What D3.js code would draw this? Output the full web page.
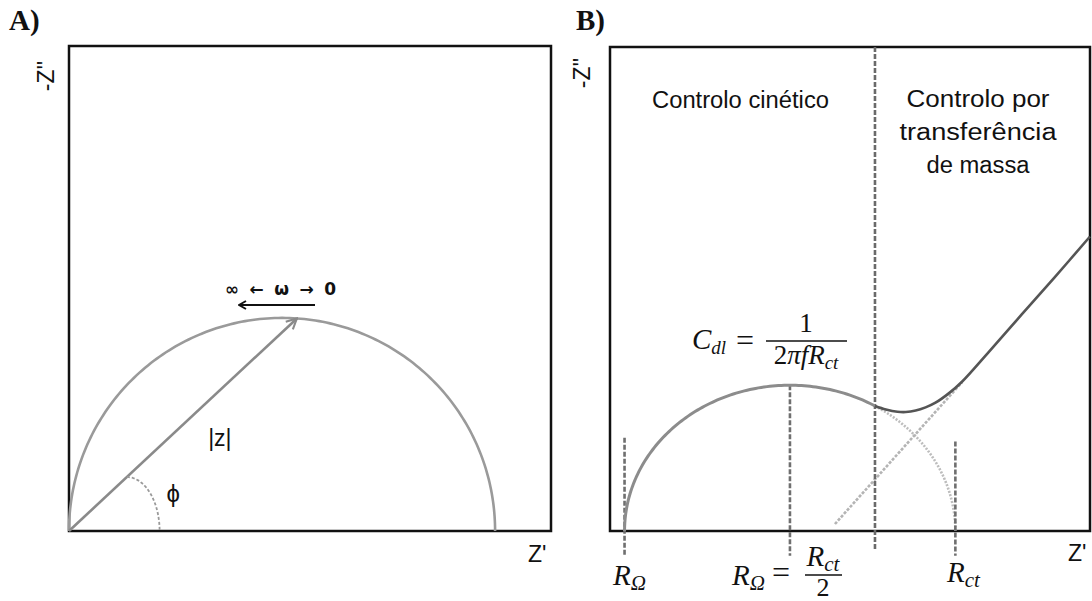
<!DOCTYPE html>
<html>
<head>
<meta charset="utf-8">
<script src="https://cdn.jsdelivr.net/npm/d3@7"></script>
<style>
  html, body { margin: 0; padding: 0; background: #fff; }
  svg { display: block; }
  .sans { font-family: "Liberation Sans", Arial, sans-serif; }
  .math { font-family: "Liberation Serif", "Times New Roman", serif; font-style: italic; }
</style>
</head>
<body>
<script>
// ---------- Panel A: Nyquist semicircle of a simple RC element ----------
const arcACenter = 4.42;          // Z' of the semicircle centre
const arcARadius = 4.42;          // semicircle radius
const modulusAngleDeg = 86;       // where |Z| vector meets the arc (angle seen from centre)
const phiArcX = [1.2, 1.88];      // phase-angle arc: start on |Z| vector, end on Z' axis

// ---------- Panel B: Randles circuit response ----------
const rOhm = 0.5;                 // high-frequency intercept R_Ω
const rCt = 10.0;                 // charge-transfer resistance
const regimeBoundary = 8.07;      // kinetic / mass-transfer boundary on Z'
const diffusionTail = [           // measured curve after leaving the semicircle [Z', -Z'']
  [8.07, 4.29], [8.4, 4.17], [8.75, 4.09], [9.0, 4.08], [9.3, 4.13],
  [9.6, 4.24], [9.9, 4.4], [10.3, 4.72], [10.7, 5.12], [11.5, 6.13],
  [12.5, 7.42], [13.5, 8.7], [14.57, 10.1]
];
const warburgLine = [[6.86, 0.24], [10.7, 5.1]];   // Warburg asymptote (dashed)
const markerTops = { rOhm: 3.2, half: 5.0, rCt: 3.07 }; // top ends of marker lines
const markerBottom = -0.85;

const W = 1092, H = 601;
const svg = d3.select("body").append("svg").attr("width", W).attr("height", H);

const defs = svg.append("defs");
defs.append("marker").attr("id", "headGray")
  .attr("viewBox", "0 0 10 10").attr("refX", 9).attr("refY", 5)
  .attr("markerWidth", 5).attr("markerHeight", 5).attr("markerUnits", "strokeWidth")
  .attr("orient", "auto")
  .append("path").attr("d", "M1,1 L9,5 L1,9").attr("fill", "none")
  .attr("stroke", "#8a8a8a").attr("stroke-width", 1.6);
defs.append("marker").attr("id", "headBlack")
  .attr("viewBox", "0 0 10 10").attr("refX", 9).attr("refY", 5)
  .attr("markerWidth", 5).attr("markerHeight", 5).attr("markerUnits", "strokeWidth")
  .attr("orient", "auto-start-reverse")
  .append("path").attr("d", "M2,1 L9,5 L2,9").attr("fill", "none")
  .attr("stroke", "#111").attr("stroke-width", 2);

const deg = Math.PI / 180;

// ===================== PANEL A =====================
const xA = d3.scaleLinear().domain([0, 10]).range([69, 551]);
const yA = d3.scaleLinear().domain([0, 10.06]).range([531, 46]);
const gA = svg.append("g");

gA.append("rect").attr("x", xA(0)).attr("y", yA(10.06))
  .attr("width", xA(10) - xA(0)).attr("height", yA(0) - yA(10.06))
  .attr("fill", "none").attr("stroke", "#111").attr("stroke-width", 2.5);

const lineA = d3.line().x(d => xA(d[0])).y(d => yA(d[1]));

// semicircle
const semiA = d3.range(0, 181, 1).map(a => [
  arcACenter + arcARadius * Math.cos((180 - a) * deg),
  arcARadius * Math.sin((180 - a) * deg)
]);
gA.append("path").attr("d", lineA(semiA)).attr("fill", "none")
  .attr("stroke", "#9a9a9a").attr("stroke-width", 2.6);

// |Z| vector
const tip = [arcACenter + arcARadius * Math.cos(modulusAngleDeg * deg),
             arcARadius * Math.sin(modulusAngleDeg * deg)];
gA.append("line").attr("x1", xA(0)).attr("y1", yA(0))
  .attr("x2", xA(tip[0])).attr("y2", yA(tip[1]))
  .attr("stroke", "#8a8a8a").attr("stroke-width", 2.6)
  .attr("marker-end", "url(#headGray)");

// phase angle arc (quarter ellipse from the vector down to the axis)
const slope = tip[1] / tip[0];
const phiRy = slope * phiArcX[0], phiRx = phiArcX[1] - phiArcX[0];
const phiPts = d3.range(0, 91, 3).map(t => [
  phiArcX[0] + phiRx * Math.sin(t * deg), phiRy * Math.cos(t * deg)
]);
gA.append("path").attr("d", lineA(phiPts)).attr("fill", "none")
  .attr("stroke", "#9a9a9a").attr("stroke-width", 1.8).attr("stroke-dasharray", "3,2");

// labels
gA.append("text").attr("class", "sans").attr("x", xA(3.13)).attr("y", yA(1.76))
  .attr("text-anchor", "middle").attr("font-size", 23).attr("fill", "#111").text("|z|");
gA.append("text").attr("class", "sans").attr("x", xA(2.16)).attr("y", yA(0.6))
  .attr("text-anchor", "middle").attr("font-size", 24).attr("fill", "#111").text("ϕ");
gA.append("text").attr("font-family", "DejaVu Sans, sans-serif").attr("font-weight", "bold")
  .attr("x", 225).attr("y", 295).attr("font-size", 17).attr("fill", "#111")
  .attr("textLength", 111).attr("lengthAdjust", "spacing").text("∞ ← ω → 0");
gA.append("line").attr("x1", 315).attr("y1", 305).attr("x2", 239).attr("y2", 305)
  .attr("stroke", "#111").attr("stroke-width", 2).attr("marker-end", "url(#headBlack)");

gA.append("text").attr("class", "sans").attr("font-size", 23).attr("fill", "#111")
  .attr("text-anchor", "middle")
  .attr("transform", "translate(54,76) rotate(-90)").text("-Z''");
gA.append("text").attr("class", "sans").attr("font-size", 23).attr("fill", "#111")
  .attr("x", 528).attr("y", 562).text("Z'");
gA.append("text").attr("font-family", "Liberation Serif, serif").attr("font-weight", "bold")
  .attr("font-size", 29).attr("fill", "#111").attr("x", 9).attr("y", 30).text("A)");

// ===================== PANEL B =====================
const xB = d3.scaleLinear().domain([0, 14.6]).range([608, 1091]);
const yB = d3.scaleLinear().domain([0, 16.6]).range([531, 47]);
const gB = svg.append("g");
const lineB = d3.line().x(d => xB(d[0])).y(d => yB(d[1]));

gB.append("rect").attr("x", 610).attr("y", yB(16.6))
  .attr("width", 1090 - 610).attr("height", yB(0) - yB(16.6))
  .attr("fill", "none").attr("stroke", "#111").attr("stroke-width", 2.5);

const cB = rOhm + rCt / 2, rB = rCt / 2;
const angAt = x => Math.acos((x - cB) / rB) / deg; // angle (deg) on semicircle for a Z' value
const aSplit = angAt(regimeBoundary);
const semiPts = (a0, a1, step) => d3.range(a0, a1 - 1e-9, -step).concat([a1]).map(a => [
  cB + rB * Math.cos(a * deg), rB * Math.sin(a * deg)
]);

// dashed continuation of semicircle to R_ct
gB.append("path").attr("d", lineB(semiPts(aSplit, 0, 1))).attr("fill", "none")
  .attr("stroke", "#bdbdbd").attr("stroke-width", 2.6).attr("stroke-dasharray", "2,1.5");
// Warburg asymptote
gB.append("path").attr("d", lineB(warburgLine)).attr("fill", "none")
  .attr("stroke", "#b4b4b4").attr("stroke-width", 2.6).attr("stroke-dasharray", "3,1.5");

// vertical marker lines
const vLines = [
  [rOhm, markerTops.rOhm, markerBottom],
  [cB, markerTops.half, markerBottom],
  [rOhm + rCt, markerTops.rCt, markerBottom]
];
gB.selectAll("line.marker").data(vLines).join("line").attr("class", "marker")
  .attr("x1", d => xB(d[0])).attr("x2", d => xB(d[0]))
  .attr("y1", d => yB(d[1])).attr("y2", d => yB(d[2]))
  .attr("stroke", "#6f6f6f").attr("stroke-width", 2.6).attr("stroke-dasharray", "5,2");
// regime boundary
gB.append("line").attr("x1", xB(regimeBoundary)).attr("x2", xB(regimeBoundary))
  .attr("y1", yB(16.6)).attr("y2", yB(-0.62))
  .attr("stroke", "#6a6a6a").attr("stroke-width", 2.6).attr("stroke-dasharray", "5,2");

// measured curve: semicircle part and diffusion tail
gB.append("path").attr("d", lineB(semiPts(180, aSplit, 1))).attr("fill", "none")
  .attr("stroke", "#8c8c8c").attr("stroke-width", 3);
gB.append("path")
  .attr("d", d3.line().x(d => xB(d[0])).y(d => yB(d[1])).curve(d3.curveCatmullRom)(diffusionTail))
  .attr("fill", "none").attr("stroke", "#555").attr("stroke-width", 2.6);

// region titles
gB.append("text").attr("class", "sans").attr("font-size", 23).attr("fill", "#111")
  .attr("x", 652).attr("y", 108).attr("textLength", 177).attr("lengthAdjust", "spacingAndGlyphs")
  .text("Controlo cinético");
const massLines = ["Controlo por", "transferência", "de massa"];
const massWidths = [143, 157, 103];
gB.selectAll("text.mass").data(massLines).join("text").attr("class", "sans mass")
  .attr("font-size", 23).attr("fill", "#111").attr("text-anchor", "middle")
  .attr("x", 978).attr("y", (d, i) => 107 + i * 33)
  .attr("textLength", (d, i) => massWidths[i]).attr("lengthAdjust", "spacingAndGlyphs")
  .text(d => d);

// axis labels
gB.append("text").attr("class", "sans").attr("font-size", 23).attr("fill", "#111")
  .attr("text-anchor", "middle")
  .attr("transform", "translate(590,73) rotate(-90)").text("-Z''");
gB.append("text").attr("class", "sans").attr("font-size", 23).attr("fill", "#111")
  .attr("x", 1068).attr("y", 561).text("Z'");
gB.append("text").attr("font-family", "Liberation Serif, serif").attr("font-weight", "bold")
  .attr("font-size", 29).attr("fill", "#111").attr("x", 576).attr("y", 30).text("B)");

// math labels
function sym(g, x, y, main, sub, anchor, subSize) {
  const t = g.append("text").attr("class", "math").attr("x", x).attr("y", y)
    .attr("font-size", 29).attr("fill", "#111").attr("text-anchor", anchor || "start");
  t.append("tspan").text(main);
  t.append("tspan").attr("font-size", subSize || 21).attr("dy", 5).text(sub);
  return t;
}
sym(gB, 613, 585, "R", "Ω");
sym(gB, 732, 585, "R", "Ω");
gB.append("text").attr("font-family", "Liberation Serif, serif").attr("font-size", 32)
  .attr("fill", "#111").attr("x", 772).attr("y", 583).text("=");
sym(gB, 823, 566, "R", "ct", "middle");
gB.append("line").attr("x1", 805).attr("x2", 842).attr("y1", 575).attr("y2", 575)
  .attr("stroke", "#111").attr("stroke-width", 1.6);
gB.append("text").attr("font-family", "Liberation Serif, serif").attr("font-size", 26)
  .attr("fill", "#111").attr("x", 823).attr("y", 596).attr("text-anchor", "middle").text("2");
sym(gB, 947, 582, "R", "ct");

// double-layer capacitance
sym(gB, 692, 349, "C", "dl", "start", 19);
gB.append("text").attr("font-family", "Liberation Serif, serif").attr("font-size", 32)
  .attr("fill", "#111").attr("x", 736).attr("y", 351).text("=");
gB.append("text").attr("font-family", "Liberation Serif, serif").attr("font-size", 27)
  .attr("fill", "#111").attr("x", 806).attr("y", 332).attr("text-anchor", "middle").text("1");
gB.append("line").attr("x1", 766).attr("x2", 847).attr("y1", 341).attr("y2", 341)
  .attr("stroke", "#111").attr("stroke-width", 1.6);
const den = gB.append("text").attr("class", "math").attr("x", 806).attr("y", 364)
  .attr("font-size", 27).attr("fill", "#111").attr("text-anchor", "middle");
den.append("tspan").attr("font-style", "normal").text("2");
den.append("tspan").text("πfR");
den.append("tspan").attr("font-size", 19).attr("dy", 5).text("ct");
</script>
</body>
</html>
